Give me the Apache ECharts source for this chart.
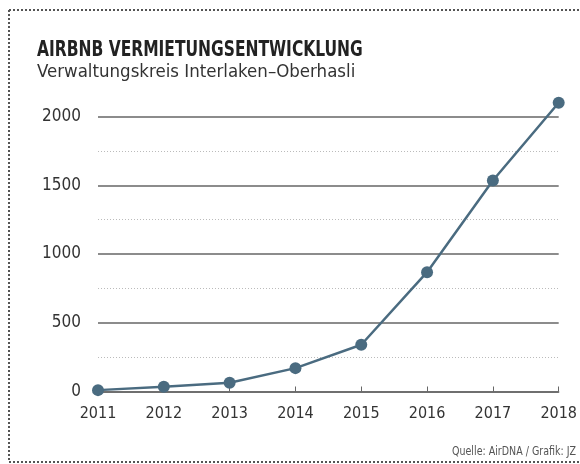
<!DOCTYPE html>
<html><head><meta charset="utf-8">
<script src="https://cdn.jsdelivr.net/npm/echarts@6/dist/echarts.min.js"></script>
<style>html,body{margin:0;padding:0;background:#fff}#c{width:580px;height:464px}</style>
</head><body><div id="c"></div>
<script>
const years = ['2011','2012','2013','2014','2015','2016','2017','2018'];
const rentals = [10, 35, 63, 170, 340, 868, 1535, 2100];
const yTicks = [0, 500, 1000, 1500, 2000];
const titleText = 'AIRBNB VERMIETUNGSENTWICKLUNG';
const subtitleText = 'Verwaltungskreis Interlaken–Oberhasli';
const sourceText = 'Quelle: AirDNA / Grafik: JZ';

const FONT = "'DejaVu Sans Condensed','Roboto',sans-serif";
const chart = echarts.init(document.getElementById('c'), null, {renderer:'canvas'});
chart.setOption({
  backgroundColor:'#fff',
  animation:false,
  graphic:[
    {type:'line', shape:{x1:9,y1:10,x2:580,y2:10}, style:{stroke:'#555', lineWidth:2, lineDash:[2,2]}},
    {type:'line', shape:{x1:9,y1:10,x2:9,y2:462}, style:{stroke:'#555', lineWidth:2, lineDash:[2,2]}},
    {type:'line', shape:{x1:9,y1:462,x2:580,y2:462}, style:{stroke:'#555', lineWidth:2, lineDash:[2,2]}},
    {type:'text', x:37, y:40, scaleX:0.82, style:{text:titleText, fontFamily:FONT, fontWeight:'bold', fontSize:21, fill:'#222', textVerticalAlign:'top'}},
    {type:'text', x:37, y:63, scaleX:1.0, style:{text:subtitleText, fontFamily:FONT, fontWeight:'normal', fontSize:18.5, fill:'#333', textVerticalAlign:'top'}},
    {type:'text', x:576, y:452, scaleX:0.88, style:{text:sourceText, fontFamily:FONT, fontSize:12, fill:'#555', textAlign:'right', textVerticalAlign:'middle'}}
  ],
  grid:{left:98, right:20, top:116.5, bottom:72.5, containLabel:false},
  xAxis:{
    type:'category', data:years, boundaryGap:false,
    axisLine:{lineStyle:{color:'#666', width:1.5}},
    axisTick:{show:true, inside:true, length:5, lineStyle:{color:'#666'}},
    axisLabel:{fontFamily:FONT, fontSize:16, color:'#333', margin:14}
  },
  yAxis:{
    type:'value', min:0, max:2000, interval:500,
    axisLine:{show:false}, axisTick:{show:false},
    axisLabel:{fontFamily:FONT, fontSize:17, color:'#333', margin:17,
      formatter:v => yTicks.includes(v) ? String(v) : ''},
    splitLine:{lineStyle:{color:'#666', width:1.5}},
    minorTick:{show:false, splitNumber:2},
    minorSplitLine:{show:true, lineStyle:{color:'#bbb', type:[1,2], width:1}}
  },
  series:[{
    type:'line', data:rentals, clip:false,
    symbol:'circle', symbolSize:12,
    lineStyle:{color:'#4a6b80', width:2.5},
    itemStyle:{color:'#4a6b80'}
  }]
});
</script></body></html>
